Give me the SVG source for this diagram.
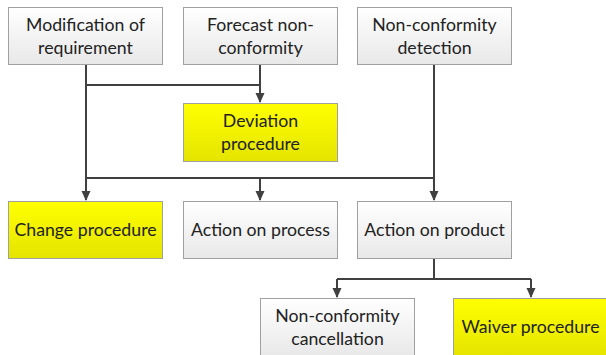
<svg xmlns="http://www.w3.org/2000/svg" width="606" height="355" viewBox="0 0 606 355">
<defs>
<linearGradient id="gw" x1="0" y1="0" x2="0" y2="1"><stop offset="0" stop-color="#ffffff"/><stop offset="1" stop-color="#e8e8e8"/></linearGradient>
<linearGradient id="gy" x1="0" y1="0" x2="0" y2="1"><stop offset="0" stop-color="#ffff00"/><stop offset="1" stop-color="#e4e400"/></linearGradient>
<marker id="ah" markerWidth="10" markerHeight="10" refX="9" refY="5" orient="auto" markerUnits="userSpaceOnUse"><path d="M0,0.5 L10,5 L0,9.5 Z" fill="#404040"/></marker>
</defs>
<style>
.bw{fill:url(#gw);stroke:#a0a0a0;stroke-width:1}
.by{fill:url(#gy);stroke:#a0a0a0;stroke-width:1}
text{font-family:Lato,"Liberation Sans",sans-serif;font-size:17.7px;fill:#222;text-anchor:middle}
.c{fill:none;stroke:#404040;stroke-width:2}
</style>
<rect width="606" height="355" fill="#ffffff"/>
<g id="connectors">
<path class="c" d="M86,64 V178"/>
<path class="c" d="M86,85 H260"/>
<path class="c" d="M260,64 V102" marker-end="url(#ah)"/>
<path class="c" d="M434,64 V178"/>
<path class="c" d="M86,178 H434"/>
<path class="c" d="M86,178 V200" marker-end="url(#ah)"/>
<path class="c" d="M260,178 V200" marker-end="url(#ah)"/>
<path class="c" d="M434,178 V200" marker-end="url(#ah)"/>
<path class="c" d="M434,258 V279"/>
<path class="c" d="M337,279 H531"/>
<path class="c" d="M337,279 V297" marker-end="url(#ah)"/>
<path class="c" d="M531,279 V297" marker-end="url(#ah)"/>
</g>
<g id="n1"><rect class="bw" x="8.5" y="7.5" width="154" height="57"/><text x="85.5" y="30.5">Modification of</text><text x="85.5" y="53.5">requirement</text></g>
<g id="n2"><rect class="bw" x="183.5" y="7.5" width="154" height="57"/><text x="260.5" y="30.5">Forecast non-</text><text x="260.5" y="53.5">conformity</text></g>
<g id="n3"><rect class="bw" x="357.5" y="7.5" width="154" height="57"/><text x="434.5" y="30.5">Non-conformity</text><text x="434.5" y="53.5">detection</text></g>
<g id="n4"><rect class="by" x="183.5" y="103.5" width="154" height="58"/><text x="260.5" y="126.5">Deviation</text><text x="260.5" y="149.5">procedure</text></g>
<g id="n5"><rect class="by" x="8.5" y="201.5" width="154" height="57"/><text x="85.5" y="235.5">Change procedure</text></g>
<g id="n6"><rect class="bw" x="183.5" y="201.5" width="154" height="57"/><text x="260.5" y="235.5">Action on process</text></g>
<g id="n7"><rect class="bw" x="357.5" y="201.5" width="154" height="57"/><text x="434.5" y="235.5">Action on product</text></g>
<g id="n8"><rect class="bw" x="260.5" y="298.5" width="154" height="58"/><text x="337.5" y="321.5">Non-conformity</text><text x="337.5" y="344.5">cancellation</text></g>
<g id="n9"><rect class="by" x="453.5" y="298.5" width="154" height="58"/><text x="530.5" y="332.5">Waiver procedure</text></g>
</svg>
